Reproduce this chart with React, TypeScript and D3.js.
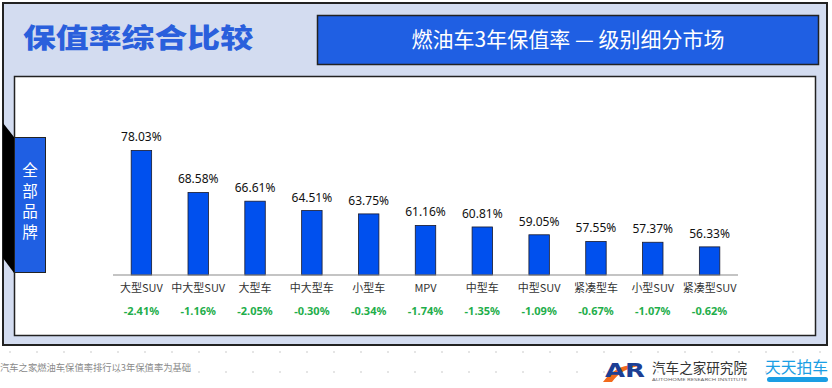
import * as d3 from "d3";

const categories = ["大型SUV", "中大型SUV", "大型车", "中大型车", "小型车", "MPV", "中型车", "中型SUV", "紧凑型车", "小型SUV", "紧凑型SUV"];
const retention = [78.03, 68.58, 66.61, 64.51, 63.75, 61.16, 60.81, 59.05, 57.55, 57.37, 56.33];
const changes = [-2.41, -1.16, -2.05, -0.3, -0.34, -1.74, -1.35, -1.09, -0.67, -1.07, -0.62];

const pageTitle = "保值率综合比较";
const chartTitle = "燃油车3年保值率 — 级别细分市场";
const sideLabel = ["全", "部", "品", "牌"];
const footNote = "汽车之家燃油车保值率排行以3年保值率为基础";

const W = 832;
const H = 388;
const CJK = "'Noto Sans CJK SC', 'Noto Sans', sans-serif";
const NUM = "'Noto Sans', 'Noto Sans CJK SC', sans-serif";

export default function App() {
  // plot area
  const x0 = 113;
  const x1 = 738;
  const baseY = 275;

  const xScale = d3
    .scaleBand()
    .domain(categories)
    .range([x0, x1])
    .paddingInner(0.64)
    .paddingOuter(0.32);
  const yScale = d3.scaleLinear().domain([50, 80]).range([baseY, baseY - 133.3]);

  const dotsX = d3.range(10, W, 27);

  return (
    <div style={{ position: "fixed", left: 0, top: 0, width: W, height: H, background: "#fff" }}>
      <svg width={W} height={H} style={{ display: "block" }}>
        {/* background dots */}
        {[352, 372].map((dy) =>
          dotsX.map((dx) => <circle key={`${dy}-${dx}`} cx={dx} cy={dy} r={0.8} fill="#c4c4c4" />)
        )}

        {/* outer panel */}
        <rect x={3} y={3} width={824} height={342} fill="#d3dcf0" stroke="#222" strokeWidth={2} />

        {/* page title */}
        <text
          x={23}
          y={48}
          fontFamily={CJK}
          fontWeight={900}
          fontSize={27}
          fill="#2a5fdc"
          textLength={230}
          lengthAdjust="spacingAndGlyphs"
        >
          {pageTitle}
        </text>

        {/* chart title box */}
        <rect x={317.5} y={15.5} width={501} height={49} fill="#1f5fe3" stroke="#222" strokeWidth={1.5} />
        <text x={568} y={47} textAnchor="middle" fontFamily={CJK} fontSize={21} fill="#fff">
          {chartTitle}
        </text>

        {/* inner white panel */}
        <rect x={14.5} y={76.5} width={801} height={259} fill="#fff" stroke="#222" strokeWidth={1.5} />

        {/* side tab */}
        <polygon points="3,123 14,137 14,273 3,258" fill="#000" />
        <rect x={14.5} y={137.5} width={31} height={135} fill="#1f5fe3" stroke="#222" strokeWidth={1} />
        {sideLabel.map((ch, i) => (
          <text key={ch} x={30} y={176 + i * 20.5} textAnchor="middle" fontFamily={CJK} fontSize={15.5} fill="#fff">
            {ch}
          </text>
        ))}

        {/* bars */}
        {categories.map((c, i) => {
          const bx = xScale(c)!;
          const by = yScale(retention[i]);
          return (
            <rect
              key={c}
              x={bx}
              y={by}
              width={xScale.bandwidth()}
              height={baseY - by}
              fill="#0050ee"
              stroke="#1a1a2a"
              strokeWidth={0.8}
            />
          );
        })}

        {/* baseline */}
        <line x1={x0} x2={x1} y1={baseY} y2={baseY} stroke="#8a8a8a" strokeWidth={1.2} />

        {/* value labels */}
        {categories.map((c, i) => (
          <text
            key={c}
            x={xScale(c)! + xScale.bandwidth() / 2}
            y={yScale(retention[i]) - 9}
            textAnchor="middle"
            fontFamily={NUM}
            fontSize={12}
            fill="#111"
          >
            {retention[i].toFixed(2)}%
          </text>
        ))}

        {/* category labels */}
        {categories.map((c) => (
          <text
            key={c}
            x={xScale(c)! + xScale.bandwidth() / 2}
            y={292}
            textAnchor="middle"
            fontFamily={CJK}
            fontSize={11}
            fill="#333"
          >
            {c}
          </text>
        ))}

        {/* change labels */}
        {categories.map((c, i) => (
          <text
            key={c}
            x={xScale(c)! + xScale.bandwidth() / 2}
            y={315}
            textAnchor="middle"
            fontFamily={NUM}
            fontWeight={700}
            fontSize={11}
            fill="#1fae4b"
          >
            {changes[i].toFixed(2)}%
          </text>
        ))}

        {/* footnote */}
        <text x={0} y={371} fontFamily={CJK} fontSize={9.3} fill="#8a8a8a">
          {footNote}
        </text>

        {/* AR logo */}
        <path d="M603,382 Q618,362 640,366 Q622,368 612,382 Z" fill="#f26a1b" />
        <text
          x={605}
          y={377}
          fontFamily="'DejaVu Sans', sans-serif"
          fontWeight={700}
          fontSize={20}
          fill="#1c3f94"
          textLength={40}
          lengthAdjust="spacingAndGlyphs"
        >
          AR
        </text>
        <text x={652} y={373} fontFamily={CJK} fontSize={13.5} fill="#333" textLength={95} lengthAdjust="spacingAndGlyphs">
          汽车之家研究院
        </text>
        <text x={652} y={381} fontFamily={NUM} fontSize={4} fill="#666" textLength={95} lengthAdjust="spacingAndGlyphs">
          AUTOHOME RESEARCH INSTITUTE
        </text>

        {/* 天天拍车 logo */}
        <text x={765} y={373} fontFamily={CJK} fontSize={16} fill="#1a9ee4" textLength={63} lengthAdjust="spacingAndGlyphs">
          天天拍车
        </text>
        <rect x={767} y={377} width={61} height={5} rx={2.5} fill="#1a9ee4" />
      </svg>
    </div>
  );
}
